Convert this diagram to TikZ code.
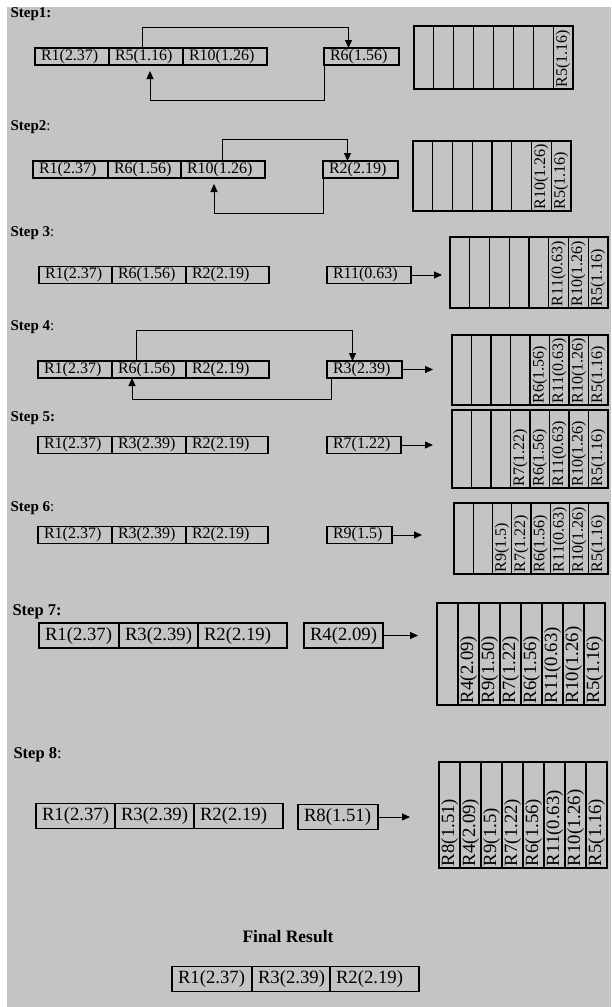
\documentclass[tikz,border=0pt]{standalone}
\usepackage{fontspec}
\setmainfont{Liberation Serif}
\usetikzlibrary{positioning, arrows.meta}
\definecolor{bggray}{RGB}{196,196,196}
\newcommand{\cellfont}{\fontsize{16}{17}\selectfont}
\newcommand{\bigcellfont}{\fontsize{18.7}{20}\selectfont}

\begin{document}
\begin{tikzpicture}[
    x=1pt, y=-1pt, line width=1.1pt,
    >={Triangle[length=8pt, width=7pt]},
    cell/.style={
        draw, outer sep=0pt, inner xsep=6pt, inner ysep=0pt,
        minimum height=17pt, text width=#1, align=left, font=\cellfont
    },
    bigcell/.style={cell=#1, minimum height=25pt, font=\bigcellfont},
    stackcol/.style 2 args={
        draw, rotate=90, outer sep=0pt, inner xsep=2pt, inner ysep=0pt,
        minimum height=#1, text width=#2, align=left, font=\cellfont
    },
    steplbl/.style={anchor=west, inner sep=0pt, font=\bfseries\fontsize{15}{16}\selectfont},
    arr/.style={->, line width=1pt},
]

\useasboundingbox (0,0) rectangle (611,1007);
\fill[bggray] (7,7) rectangle (611,1007);

% Step 1
\node[steplbl] (lbl1) at (10,14) {Step1:};
\node[cell=62pt, anchor=west] (r1a) at (35,56.5) {R1(2.37)};
\node[cell=62pt, right=0pt of r1a] (r1b) {R5(1.16)};
\node[cell=72pt, right=0pt of r1b] (r1c) {R10(1.26)};
\node[cell=63pt, anchor=west] (r1x) at (324,56.5) {R6(1.56)};
\draw[arr] ([xshift=-4pt]r1b.north) -- ++(0,-21) -| ([xshift=-13pt]r1x.north);
\draw[arr] (r1x.south west) -- ++(0,35) -| ([xshift=4pt, yshift=-6pt]r1b.south);
\foreach \t [count=\i from 0] in {{},{},{},{},{},{},{},{R5(1.16)}}
    \node[stackcol={19.875pt}{59pt}] (s1-\i) at (423.94+\i*19.875, 57.5) {\t};

% Step 2
\node[steplbl] (lbl2) at (10,127) {Step2\mdseries:};
\node[cell=63pt, anchor=west] (r2a) at (33,169.5) {R1(2.37)};
\node[cell=61pt, right=0pt of r2a] (r2b) {R6(1.56)};
\node[cell=72pt, right=0pt of r2b] (r2c) {R10(1.26)};
\node[cell=63pt, anchor=west] (r2x) at (323,169.5) {R2(2.19)};
\draw[arr] ([xshift=-1pt]r2c.north) -- ++(0,-22) -| ([xshift=-13pt]r2x.north);
\draw[arr] ([yshift=5pt]r2x.south west) -- ++(0,40) -| ([xshift=-9pt, yshift=-6pt]r2c.south);
\foreach \t [count=\i from 0] in {{},{},{},{},{},{},{R10(1.26)},{R5(1.16)}}
    \node[stackcol={19.75pt}{66pt}] (s2-\i) at (422.88+\i*19.75, 176) {\t};

% Step 3
\node[steplbl] (lbl3) at (10,233) {Step 3\mdseries:};
\node[cell=61pt, anchor=west] (r3a) at (39,275) {R1(2.37)};
\node[cell=62pt, right=0pt of r3a] (r3b) {R6(1.56)};
\node[cell=71pt, right=0pt of r3b] (r3c) {R2(2.19)};
\node[cell=72pt, anchor=west] (r3x) at (327,275) {R11(0.63)};
\coordinate (e3) at (442,275);
\draw[arr] (r3x) -- (e3);
\foreach \t [count=\i from 0] in {{},{},{},{},{},{R11(0.63)},{R10(1.26)},{R5(1.16)}}
    \node[stackcol={19.75pt}{67pt}] (s3-\i) at (459.88+\i*19.75, 272.5) {\t};

% Step 4
\node[steplbl] (lbl4) at (10,327) {Step 4\mdseries:};
\node[cell=62pt, anchor=west] (r4a) at (38,369.5) {R1(2.37)};
\node[cell=62pt, right=0pt of r4a] (r4b) {R6(1.56)};
\node[cell=71pt, right=0pt of r4b] (r4c) {R2(2.19)};
\node[cell=63pt, anchor=west] (r4x) at (327,369.5) {R3(2.39)};
\draw[arr] ([xshift=-13pt]r4b.north) -- ++(0,-31) -| ([xshift=-12pt]r4x.north);
\draw[arr] ([xshift=4pt]r4x.south west) -- ++(0,21) -| ([xshift=-17pt]r4b.south);
\coordinate (e4) at (433,369.5);
\draw[arr] (r4x) -- (e4);
\foreach \t [count=\i from 0] in {{},{},{},{},{R6(1.56)},{R11(0.63)},{R10(1.26)},{R5(1.16)}}
    \node[stackcol={19.5pt}{66pt}] (s4-\i) at (461.75+\i*19.5, 370) {\t};

% Step 5
\node[steplbl] (lbl5) at (10,418) {Step 5:};
\node[cell=62pt, anchor=west] (r5a) at (38,445) {R1(2.37)};
\node[cell=62pt, right=0pt of r5a] (r5b) {R3(2.39)};
\node[cell=70pt, right=0pt of r5b] (r5c) {R2(2.19)};
\node[cell=62pt, anchor=west] (r5x) at (327,445) {R7(1.22)};
\coordinate (e5) at (433,445);
\draw[arr] (r5x) -- (e5);
\foreach \t [count=\i from 0] in {{},{},{},{R7(1.22)},{R6(1.56)},{R11(0.63)},{R10(1.26)},{R5(1.16)}}
    \node[stackcol={19.5pt}{74pt}] (s5-\i) at (461.75+\i*19.5, 449) {\t};

% Step 6
\node[steplbl] (lbl6) at (10,508) {Step 6\mdseries:};
\node[cell=62pt, anchor=west] (r6a) at (38,535) {R1(2.37)};
\node[cell=62pt, right=0pt of r6a] (r6b) {R3(2.39)};
\node[cell=70pt, right=0pt of r6b] (r6c) {R2(2.19)};
\node[cell=53pt, anchor=west] (r6x) at (327,535) {R9(1.5)};
\coordinate (e6) at (422,535);
\draw[arr] (r6x) -- (e6);
\foreach \t [count=\i from 0] in {{},{},{R9(1.5)},{R7(1.22)},{R6(1.56)},{R11(0.63)},{R10(1.26)},{R5(1.16)}}
    \node[stackcol={19.25pt}{67pt}] (s6-\i) at (463.63+\i*19.25, 538.5) {\t};

% Step 7
\node[steplbl, font=\bfseries\fontsize{16.5}{18}\selectfont] (lbl7) at (12,612) {Step 7:};
\node[bigcell=68pt, anchor=west] (r7a) at (39,635.5) {R1(2.37)};
\node[bigcell=67pt, right=0pt of r7a] (r7b) {R3(2.39)};
\node[bigcell=77pt, right=0pt of r7b] (r7c) {R2(2.19)};
\node[bigcell=67pt, anchor=west] (r7x) at (304,635.5) {R4(2.09)};
\coordinate (e7) at (418,635.5);
\draw[arr] (r7x) -- (e7);
\foreach \t [count=\i from 0] in {{},{R4(2.09)},{R9(1.50)},{R7(1.22)},{R6(1.56)},{R11(0.63)},{R10(1.26)},{R5(1.16)}}
    \node[stackcol={21pt}{98pt}, font=\bigcellfont] (s7-\i) at (447.5+\i*21, 654) {\t};

% Step 8
\node[steplbl, font=\bfseries\fontsize{16.5}{18}\selectfont] (lbl8) at (13,755) {Step 8\mdseries:};
\node[bigcell=67pt, anchor=west] (r8a) at (36,816) {R1(2.37)};
\node[bigcell=67pt, right=0pt of r8a] (r8b) {R3(2.39)};
\node[bigcell=77pt, right=0pt of r8b] (r8c) {R2(2.19)};
\node[bigcell=68pt, anchor=west] (r8x) at (298,817) {R8(1.51)};
\coordinate (e8) at (410,817);
\draw[arr] (r8x) -- (e8);
\foreach \t [count=\i from 0] in {{R8(1.51)},{R4(2.09)},{R9(1.5)},{R7(1.22)},{R6(1.56)},{R11(0.63)},{R10(1.26)},{R5(1.16)}}
    \node[stackcol={21pt}{102pt}, font=\bigcellfont] (s8-\i) at (449.5+\i*21, 815) {\t};

% Final result
\node[font=\bfseries\fontsize{17.5}{19}\selectfont, inner sep=0pt] (lblf) at (288,937) {Final Result};
\node[bigcell=68pt, anchor=west] (rfa) at (172,979) {R1(2.37)};
\node[bigcell=66pt, right=0pt of rfa] (rfb) {R3(2.39)};
\node[bigcell=77pt, right=0pt of rfb] (rfc) {R2(2.19)};

\end{tikzpicture}
\end{document}
